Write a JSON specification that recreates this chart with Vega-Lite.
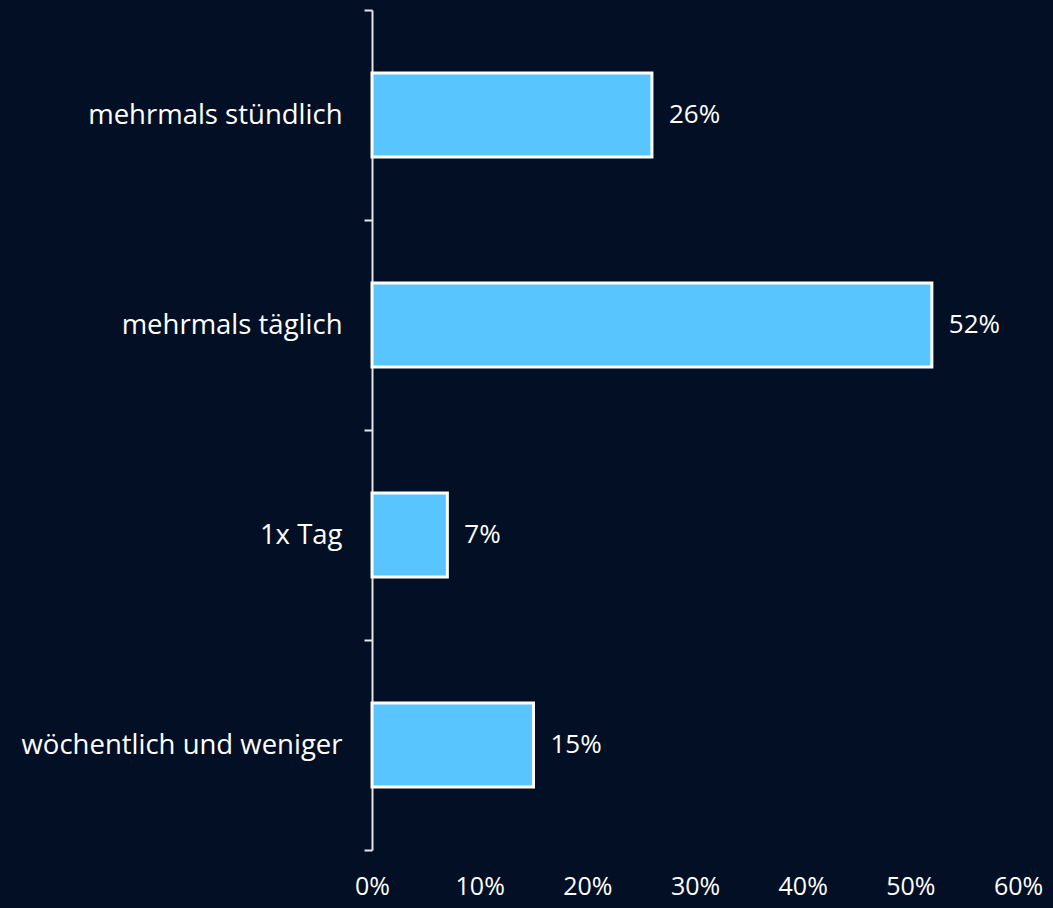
{
  "$schema": "https://vega.github.io/schema/vega-lite/v6.json",
  "autosize": "none",
  "width": 646,
  "height": 840,
  "padding": {"left": 372, "top": 10, "right": 35, "bottom": 58},
  "background": "#020f24",
  "config": {
    "view": {"stroke": null},
    "font": "Open Sans",
    "axis": {"labelFont": "Open Sans", "labelColor": "#ffffff", "labelFontSize": 25, "grid": false}
  },
  "data": {
    "values": [
      {"kategorie": "mehrmals stündlich", "anteil": 0.26},
      {"kategorie": "mehrmals täglich", "anteil": 0.52},
      {"kategorie": "1x Tag", "anteil": 0.07},
      {"kategorie": "wöchentlich und weniger", "anteil": 0.15}
    ]
  },
  "encoding": {
    "y": {
      "field": "kategorie",
      "type": "nominal",
      "sort": null,
      "scale": {"paddingInner": 0, "paddingOuter": 0},
      "axis": {
        "title": null,
        "domainColor": "#e6e6e6",
        "domainWidth": 2,
        "tickColor": "#e6e6e6",
        "tickWidth": 2,
        "tickSize": 8,
        "tickBand": "extent",
        "labelPadding": 22,
        "labelLimit": 400,
        "labelFontSize": 27.5
      }
    },
    "x": {
      "field": "anteil",
      "type": "quantitative",
      "scale": {"domain": [0, 0.6], "nice": false},
      "axis": {
        "title": null,
        "format": ".0%",
        "values": [0, 0.1, 0.2, 0.3, 0.4, 0.5, 0.6],
        "domain": false,
        "ticks": false,
        "labelPadding": 24,
        "labelFontSize": 25,
        "labelFlush": false
      }
    }
  },
  "layer": [
    {
      "mark": {"type": "bar", "height": {"band": 0.4}, "color": "#59c5ff", "stroke": "#ffffff", "strokeWidth": 3}
    },
    {
      "mark": {"type": "text", "align": "left", "baseline": "middle", "dx": 17, "color": "#ffffff", "fontSize": 26, "font": "Open Sans"},
      "encoding": {"text": {"field": "anteil", "type": "quantitative", "format": ".0%"}}
    }
  ]
}
